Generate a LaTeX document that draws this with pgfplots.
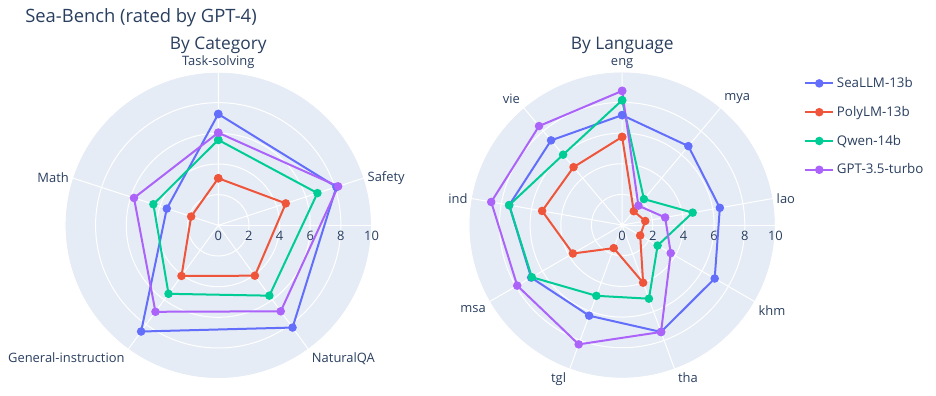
\documentclass[border=0pt]{standalone}
\usepackage{fontspec}
\setmainfont{Open Sans}
\usepackage{pgfplots}
\usepackage{pgfplotstable}
\pgfplotsset{compat=1.18}
\usepgfplotslibrary{polar}
\definecolor{bgc}{HTML}{E5ECF6}
\definecolor{txt}{HTML}{2A3F5F}
\definecolor{cA}{HTML}{636EFA}
\definecolor{cB}{HTML}{EF553B}
\definecolor{cC}{HTML}{00CC96}
\definecolor{cD}{HTML}{AB63FA}

% angle  SeaLLM PolyLM Qwen GPT
\pgfplotstableread{
ang sea poly qwen gpt
90  7.26 3.07 5.57 6.04
18  8.10 4.63 6.80 8.22
306 8.24 4.06 5.67 6.93
234 8.56 4.08 5.52 6.97
162 3.53 1.86 4.45 5.78
90  7.26 3.07 5.57 6.04
}\cattable
\pgfplotstableread{
ang sea poly qwen gpt
90  7.17 5.75 8.14 8.75
50  6.72 1.18 2.21 1.65
10  6.47 1.53 4.67 2.85
330 6.97 1.36 2.67 3.66
290 7.42 4.00 5.11 7.42
250 6.29 1.60 4.91 8.28
210 6.85 3.71 6.80 7.90
170 7.48 5.30 7.48 8.67
130 7.21 4.93 5.99 8.43
90  7.17 5.75 8.14 8.75
}\langtable

\pgfplotsset{
  radar/.style={
    scale only axis, width=230pt, height=230pt,
    anchor=center,
    xmin=0, xmax=360, ymin=0, ymax=10,
    ytick={0,2,4,6,8,10},
    xmajorgrids, ymajorgrids,
    major grid style={white, line width=0.75pt},
    axis background/.style={fill=bgc},
    axis line style={white, line width=0.75pt},
    major tick length=0pt,
    tick label style={font=\fontsize{9.7}{11}\selectfont, text=txt},
    yticklabel style={anchor=north, yshift=-1pt},
    /pgf/number format/assume math mode=true,
    every axis plot/.append style={line width=1.5pt, mark=*, mark size=2.4pt, mark options={solid}},
  }
}

\begin{document}
\begin{tikzpicture}
\path[use as bounding box] (0pt,0pt) rectangle (702pt,297pt);

\begin{polaraxis}[radar, at={(163.7pt,128pt)},
  xtick={18,90,162,234,306},
  xticklabels={Safety,Task-solving,Math,General-instruction,NaturalQA},
  xticklabel style={inner sep=2.5pt, /utils/exec={\ifcase\ticknum\def\myanch{west}\or\def\myanch{south}\or\def\myanch{east}\or\def\myanch{north east}\or\def\myanch{north west}\fi}, anchor=\myanch}]
\addplot[cA] table[x=ang,y=sea] {\cattable};
\addplot[cB] table[x=ang,y=poly] {\cattable};
\addplot[cC] table[x=ang,y=qwen] {\cattable};
\addplot[cD] table[x=ang,y=gpt] {\cattable};
\end{polaraxis}

\begin{polaraxis}[radar, at={(466.6pt,128.2pt)},
  xtick={10,50,90,130,170,210,250,290,330},
  xticklabels={lao,mya,eng,vie,ind,msa,tgl,tha,khm},
  xticklabel style={inner sep=2.5pt, /utils/exec={\ifcase\ticknum\def\myanch{west}\or\def\myanch{south west}\or\def\myanch{south}\or\def\myanch{south east}\or\def\myanch{east}\or\def\myanch{north east}\or\def\myanch{north east}\or\def\myanch{north west}\or\def\myanch{north west}\fi}, anchor=\myanch},
  legend style={at={(1.08,1.0)}, anchor=north west, draw=none, fill=none,
    font=\fontsize{10}{11}\selectfont, text=txt, row sep=8.5pt,
    legend cell align=left},
  legend image code/.code={\draw[mark repeat=2,mark phase=2] plot coordinates {(0pt,0pt) (10.5pt,0pt) (21pt,0pt)};}]
\addplot[cA] table[x=ang,y=sea] {\langtable};
\addplot[cB] table[x=ang,y=poly] {\langtable};
\addplot[cC] table[x=ang,y=qwen] {\langtable};
\addplot[cD] table[x=ang,y=gpt] {\langtable};
\legend{SeaLLM-13b,PolyLM-13b,Qwen-14b,GPT-3.5-turbo}
\end{polaraxis}

\node[anchor=west, text=txt, font=\fontsize{13.8}{15}\selectfont, inner sep=0pt] at (18.75pt,283.9pt) {Sea-Bench (rated by GPT-4)};
\node[text=txt, font=\fontsize{13}{15}\selectfont, inner sep=0pt] at (163.7pt,263.3pt) {By Category};
\node[text=txt, font=\fontsize{13}{15}\selectfont, inner sep=0pt] at (466.7pt,263pt) {By Language};
\end{tikzpicture}
\end{document}
